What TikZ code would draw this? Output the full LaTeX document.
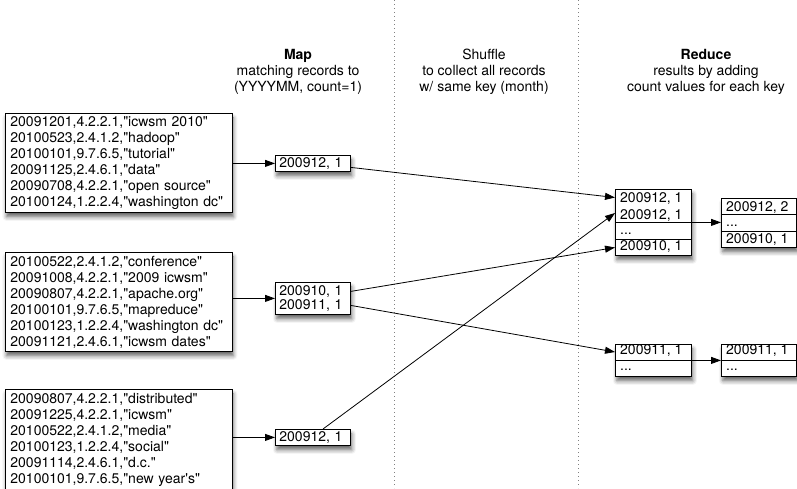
\documentclass[tikz,border=0pt]{standalone}
\usepackage{fontspec}
\setmainfont{TeX Gyre Heros}[Ligatures=TeXOff]
\usetikzlibrary{arrows.meta,shadows.blur,calc}

\begin{document}
\begin{tikzpicture}[x=1pt,y=-1pt,
  font=\fontsize{14}{16}\selectfont,
  box/.style={draw=black, line width=0.8pt, fill=white, rectangle, anchor=north west,
    blur shadow={shadow xshift=1.5pt, shadow yshift=-4.5pt, shadow blur radius=4pt, shadow opacity=60}},
  recbox/.style={box, minimum width=227pt, minimum height=99pt, inner xsep=5.5pt, inner ysep=0pt,
    text width=216pt, align=left},
  mapbox/.style={box, minimum width=75pt, inner xsep=4pt, inner ysep=0pt, text width=67pt, align=left,
    font=\fontsize{14}{14}\selectfont},
  redbox/.style={box, inner sep=0pt},
  lbl/.style={anchor=base west, inner sep=0pt},
  sep/.style={line width=0.8pt},
  flow/.style={line width=0.8pt, -{Triangle[length=10pt,width=7pt]}},
  lane/.style={gray, line width=0.6pt, dash pattern=on 1.2pt off 2.8pt},
  head/.style={align=center, anchor=north, inner sep=0pt}
]
\useasboundingbox (0,0) rectangle (797,488);

% column separators
\draw[lane] (394,0) -- (394,488);
\draw[lane] (578,0) -- (578,488);

% column headings
\node[head] (hmap) at (298,49) {\textbf{Map}\\matching records to\\(YYYYMM, count=1)};
\node[head] (hshuf) at (484,49) {Shuffle\\to collect all records\\w/ same key (month)};
\node[head] (hred) at (706,49) {\textbf{Reduce}\\results by adding\\count values for each key};

% input records
\node[recbox] (in1) at (4.5,113) {20091201,4.2.2.1,"icwsm 2010"\\20100523,2.4.1.2,"hadoop"\\20100101,9.7.6.5,"tutorial"\\20091125,2.4.6.1,"data"\\20090708,4.2.2.1,"open source"\\20100124,1.2.2.4,"washington dc"};
\node[recbox] (in2) at (4.5,252) {20100522,2.4.1.2,"conference"\\20091008,4.2.2.1,"2009 icwsm"\\20090807,4.2.2.1,"apache.org"\\20100101,9.7.6.5,"mapreduce"\\20100123,1.2.2.4,"washington dc"\\20091121,2.4.6.1,"icwsm dates"};
\node[recbox, minimum height=101pt] (in3) at (4.5,389) {20090807,4.2.2.1,"distributed"\\20091225,4.2.2.1,"icwsm"\\20100522,2.4.1.2,"media"\\20100123,1.2.2.4,"social"\\20091114,2.4.6.1,"d.c."\\20100101,9.7.6.5,"new year's"};

% map output
\node[mapbox, minimum height=16pt] (m1) at (275,155) {200912, 1};
\node[mapbox, minimum height=32pt] (m2) at (275,282) {200910, 1\\200911, 1};
\node[mapbox, minimum height=16pt] (m3) at (275,429) {200912, 1};

% grouped by key
\node[redbox, minimum width=76pt, minimum height=66pt] (r1) at (615,189) {};
\draw[sep] ($(r1.north west)+(0,33.5)$) -- ($(r1.north east)+(0,33.5)$);
\draw[sep] ($(r1.north west)+(0,50)$) -- ($(r1.north east)+(0,50)$);
\node[lbl] (r1a) at ($(r1.north west)+(5,13.5)$) {200912, 1};
\node[lbl] (r1b) at ($(r1.north west)+(5,30)$) {200912, 1};
\node[lbl] (r1c) at ($(r1.north west)+(5,45)$) {...};
\node[lbl] (r1d) at ($(r1.north west)+(5,61.5)$) {200910, 1};

\node[redbox, minimum width=76pt, minimum height=32pt] (r2) at (615,344) {};
\draw[sep] ($(r2.north west)+(0,16)$) -- ($(r2.north east)+(0,16)$);
\node[lbl] (r2a) at ($(r2.north west)+(5,10.5)$) {200911, 1};
\node[lbl] (r2b) at ($(r2.north west)+(5,26.5)$) {...};

% reduced counts
\node[redbox, minimum width=75pt, minimum height=49pt] (o1) at (721,198) {};
\draw[sep] ($(o1.north west)+(0,16)$) -- ($(o1.north east)+(0,16)$);
\draw[sep] ($(o1.north west)+(0,33)$) -- ($(o1.north east)+(0,33)$);
\node[lbl] (o1a) at ($(o1.north west)+(5,13.5)$) {200912, 2};
\node[lbl] (o1b) at ($(o1.north west)+(5,28)$) {...};
\node[lbl] (o1c) at ($(o1.north west)+(5,45)$) {200910, 1};

\node[redbox, minimum width=75pt, minimum height=32pt] (o2) at (721,344) {};
\draw[sep] ($(o2.north west)+(0,16)$) -- ($(o2.north east)+(0,16)$);
\node[lbl] (o2a) at ($(o2.north west)+(5,10.5)$) {200911, 1};
\node[lbl] (o2b) at ($(o2.north west)+(5,26.5)$) {...};

% inputs to map
\draw[flow] (in1.east |- m1.west) -- (m1.west);
\draw[flow] (in2.east |- m2.west) -- (m2.west);
\draw[flow] (in3.east |- m3.west) -- (m3.west);

% shuffle connectors
\coordinate (sA) at ($(m1.east)+(0,4)$);
\coordinate (sB) at ($(m3.north west)+(48,0)$);
\coordinate (sC) at ($(m2.east)+(0,-7)$);
\coordinate (sD) at ($(m2.east)+(0,7)$);
\coordinate (tA) at ($(r1.north west)+(0,8.5)$);
\coordinate (tB) at ($(r1.north west)+(0,24)$);
\coordinate (tC) at ($(r1.north west)+(0,58.5)$);
\coordinate (tD) at ($(r2.north west)+(0,8)$);
\draw[flow] (sA) -- (tA);
\draw[flow] (sB) -- (tB);
\draw[flow] (sC) -- (tC);
\draw[flow] (sD) -- (tD);

% reduce
\draw[flow] (r1.east) -- (r1.east -| o1.west);
\draw[flow] (r2.east) -- (r2.east -| o2.west);
\end{tikzpicture}
\end{document}
